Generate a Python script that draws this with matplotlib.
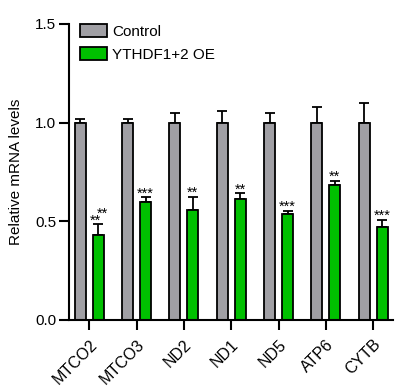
import matplotlib
matplotlib.use("Agg")
import matplotlib.pyplot as plt
import matplotlib.transforms as mtransforms
import numpy as np

plt.rcParams['font.family'] = ['Liberation Sans', 'DejaVu Sans']

genes = ["MTCO2", "MTCO3", "ND2", "ND1", "ND5", "ATP6", "CYTB"]
control = [1.0, 1.0, 1.0, 1.0, 1.0, 1.0, 1.0]
control_err = [0.02, 0.02, 0.05, 0.06, 0.05, 0.08, 0.10]
oe = [0.43, 0.60, 0.555, 0.614, 0.535, 0.684, 0.472]
oe_err = [0.054, 0.022, 0.068, 0.027, 0.018, 0.022, 0.037]
stars = ["**", "***", "**", "**", "***", "**", "***"]

gray = "#A09FA4"
green = "#00C000"
fs = 11

fig = plt.figure(figsize=(4.01, 3.92), dpi=100)
ax = fig.add_axes([0.172, 0.1837, 0.808, 0.7551])

x = np.arange(len(genes))
w = 0.235
off = 0.19
ax.bar(x - off, control, w, color=gray, edgecolor="black", linewidth=1.3, label="Control", zorder=2)
ax.bar(x + off, oe, w, color=green, edgecolor="black", linewidth=1.3, label="YTHDF1+2 OE", zorder=2)
ax.errorbar(x - off, control, yerr=[np.zeros(len(x)), control_err], fmt="none",
            ecolor="black", elinewidth=1.3, capsize=3.8, capthick=1.3, zorder=1)
ax.errorbar(x + off, oe, yerr=[np.zeros(len(x)), oe_err], fmt="none",
            ecolor="black", elinewidth=1.3, capsize=3.8, capthick=1.3, zorder=1)

for i, s in enumerate(stars):
    top = oe[i] + oe_err[i]
    dx = -2.2 if i == 0 else 0
    ax.annotate(s, (x[i] + off, top), xytext=(dx, 2.8), textcoords="offset points",
                ha="center", va="center", fontsize=10.5)
# extra overlapping label on the first group
ax.annotate("**", (x[0] + off, oe[0] + oe_err[0]), xytext=(3.1, 7.4), textcoords="offset points",
            ha="center", va="center", fontsize=10.5)

ax.set_xlim(-0.43, 6.42)
ax.set_ylim(0, 1.5)
ax.set_yticks([0.0, 0.5, 1.0, 1.5])
ax.set_yticklabels(["0.0", "0.5", "1.0", "1.5"])
ax.set_xticks(x)
ax.set_xticklabels(genes, rotation=45, ha="right", rotation_mode="anchor", fontsize=11.5)
shift = mtransforms.ScaledTranslation(3.5 / 72, 0, fig.dpi_scale_trans)
for lbl in ax.get_xticklabels():
    lbl.set_transform(lbl.get_transform() + shift)
for sp in ["top", "right"]:
    ax.spines[sp].set_visible(False)
for sp in ["left", "bottom"]:
    ax.spines[sp].set_linewidth(1.5)
ax.tick_params(axis="both", width=1.5, length=7, direction="out")
ax.tick_params(axis="y", pad=2, labelsize=fs)
ax.tick_params(axis="x", pad=5)
ax.set_ylabel("Relative mRNA levels", fontsize=fs, labelpad=9)

leg = ax.legend(loc="upper left", bbox_to_anchor=(0.015, 1.02), frameon=False, fontsize=fs,
                handlelength=1.8, handleheight=0.95, handletextpad=0.3, labelspacing=0.5,
                borderaxespad=0)

fig.savefig("out.png", dpi=100)
